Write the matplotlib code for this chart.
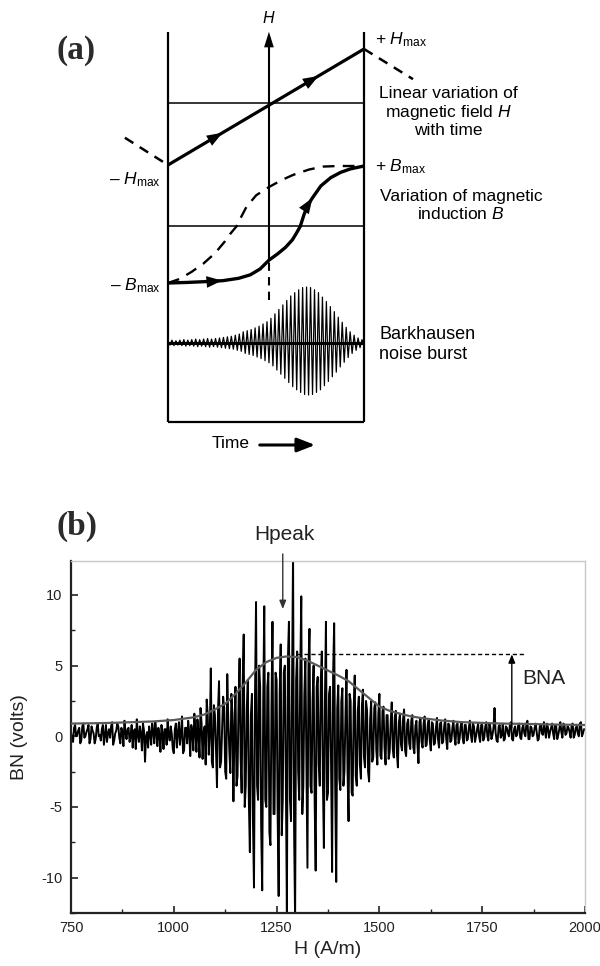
import matplotlib
matplotlib.use('Agg')
import matplotlib.pyplot as plt
import numpy as np
from matplotlib.ticker import MultipleLocator
from matplotlib.patches import FancyArrowPatch

plt.rcParams['font.family'] = ['Liberation Sans', 'DejaVu Sans']
plt.rcParams['axes.unicode_minus'] = False
plt.rcParams['mathtext.fontset'] = 'custom'
plt.rcParams['mathtext.rm'] = 'Liberation Sans'
plt.rcParams['mathtext.it'] = 'Liberation Sans:italic'
plt.rcParams['mathtext.bf'] = 'Liberation Sans:bold'

# ---------------- panel (a): schematic data (normalised units) ----------------
h_time = [0.0, 1.0]
h_field = [-1.0, 1.0]
h_prev_time = [-0.22, 0.0]
h_prev_field = [-0.53, -1.0]
h_next_time = [1.0, 1.25]
h_next_field = [1.0, 0.48]

b_up_time = [0.0, 0.10, 0.20, 0.28, 0.36, 0.42, 0.47, 0.515, 0.56, 0.60, 0.635,
             0.655, 0.675, 0.695, 0.715, 0.74, 0.78, 0.83, 0.88, 0.93, 1.0]
b_up_val = [-1.0, -0.99, -0.975, -0.96, -0.92, -0.86, -0.76, -0.61, -0.50, -0.39, -0.26,
            -0.15, -0.03, 0.18, 0.34, 0.47, 0.66, 0.80, 0.89, 0.95, 1.0]

b_dn_time = [0.0, 0.06, 0.12, 0.18, 0.24, 0.29, 0.32, 0.35, 0.375, 0.40, 0.45,
             0.515, 0.58, 0.64, 0.72, 0.79, 0.87, 1.0]
b_dn_val = [-1.0, -0.93, -0.81, -0.67, -0.49, -0.29, -0.15, -0.03, 0.14, 0.30, 0.50,
            0.64, 0.76, 0.85, 0.94, 0.99, 1.0, 1.0]

burst_amp = [0.04, 0.05, 0.04, 0.05, 0.06, 0.05, 0.06, 0.07, 0.06, 0.07,
             0.08, 0.07, 0.08, 0.09, 0.10, 0.11, 0.12, 0.14, 0.16, 0.20,
             0.22, 0.24, 0.27, 0.30, 0.34, 0.38, 0.44, 0.52, 0.60, 0.68,
             0.76, 0.84, 0.90, 0.95, 0.99, 1.00, 0.99, 0.95, 0.90, 0.82,
             0.74, 0.65, 0.56, 0.46, 0.37, 0.28, 0.20, 0.14, 0.09, 0.06]

# ---------------- panel (b): Barkhausen noise data ----------------
# samples at 750, 755, ..., 2000 A/m
bn_field = np.arange(750, 2001, 5)
bn_signal = [
    0.3, -0.4, 0.8, 0.1, 0.6, -0.3, 0.9, 0.0, 0.5, -0.5,
    0.7, 0.2, -0.2, 0.9, 0.1, 0.5, -0.6, 0.8, 0.2, -0.1,
    1.0, -0.3, 0.4, 0.7, -0.5, 0.3, 1.1, -0.2, 0.6, 0.0,
    -0.8, 0.5, 1.2, -0.4, 0.2, 0.9, -1.8, 0.3, 0.7, -0.6,
    0.4, 1.0, -0.7, 0.1, 0.8, -0.9, 0.5, 1.2, -0.3, 0.2,
    -1.2, 0.9, 0.3, -0.6, 1.4, -1.0, 0.6, 1.1, -1.4, 0.4,
    1.6, -1.1, 0.2, 2.0, -1.6, 0.7, 2.6, -1.3, 4.8, -2.2,
    1.5, -3.6, 3.9, -1.8, 2.8, -2.5, 4.4, -1.0, 3.0, -4.6,
    3.5, -2.8, 5.5, -4.0, 7.2, -3.5, 4.0, -8.2, 3.0, -10.7,
    9.5, -4.5, 3.5, -10.9, 9.2, -5.0, 4.5, -7.7, 8.1, -5.5,
    4.0, -11.3, 6.5, -4.5, 5.0, -12.4, 8.1, -6.0, 13.0, -13.0,
    6.0, -4.5, 9.9, -3.5, 5.5, -9.3, 7.6, -4.0, 5.0, -9.5,
    4.2, -3.5, 6.0, -7.9, 8.1, -4.0, 3.5, -9.6, 8.0, -10.3,
    3.6, -3.8, 3.4, -2.5, 4.7, -6.0, 2.5, -4.2, 4.3, -3.5,
    2.8, -3.0, 3.3, -2.2, 1.8, -3.2, 2.5, -1.5, 2.4, -2.0,
    3.0, -1.6, 2.1, -2.0, 1.5, -1.1, 2.4, -1.5, 1.8, -2.2,
    1.6, -1.0, 1.9, -1.4, 1.2, -0.9, 1.5, -1.2, 1.1, -1.9,
    1.3, -0.8, 1.4, -0.6, 1.2, -1.0, 0.9, -0.5, 1.3, -0.8,
    1.0, -0.4, 1.2, -0.9, 0.8, -0.3, 1.1, -0.6, 0.9, -0.2,
    1.0, -0.5, 0.8, -0.2, 1.1, -0.4, 0.7, 0.0, 0.9, -0.4,
    0.8, -0.1, 1.0, -0.3, 0.6, 0.1, 2.0, -0.3, 0.7, -0.1,
    0.9, -0.2, 0.6, 0.0, 1.0, -0.3, 0.7, 0.1, 0.9, -0.2,
    0.8, 0.0, 1.1, -0.2, 0.6, 0.1, 0.9, -0.3, 0.7, 0.2,
    1.0, -0.1, 0.6, 0.3, 0.9, -0.2, 0.7, 0.1, 1.0, -0.1,
    0.8, 0.2, 0.6, -0.1, 0.9, 0.1, 0.7, 0.0, 1.0, 0.2,
    0.5]
# in-between samples at 752.5, 757.5, ..., 1997.5 A/m
bn_field_mid = np.arange(752.5, 2000, 5)
bn_signal_mid = [
    -0.2, 0.6, 0.0, 0.4, -0.5, 0.7, -0.1, 0.3, 0.8, -0.2,
    0.4, -0.5, 0.6, 0.0, -0.3, 0.8, 0.1, -0.4, 0.5, 0.7,
    -0.6, 0.2, 0.9, -0.1, 0.6, -0.7, 0.3, 0.5, -0.4, 0.8,
    0.3, -0.9, 0.1, 0.7, -1.0, 0.4, 0.0, -0.8, 0.2, 0.9,
    -0.5, 0.3, 0.6, -1.1, 0.2, 0.5, -0.6, 0.1, 0.7, -0.9,
    0.5, -0.8, 1.0, 0.2, -1.2, 0.6, -0.5, 0.3, 0.8, -1.0,
    0.4, 1.2, -1.5, 0.9, 0.3, -2.0, 1.5, 0.1, -1.8, 2.2,
    -0.8, 1.8, -2.2, 0.6, 2.0, -3.0, 1.2, -2.6, 1.6, 0.5,
    -3.5, 2.5, -1.5, 3.8, -5.0, 2.0, -4.5, 1.5, -6.0, 3.0,
    -3.5, 5.0, -6.5, 2.5, -4.5, 3.5, -6.8, 2.0, -5.5, 4.5,
    -5.5, 3.0, -7.0, 4.5, -3.0, 5.5, -4.5, 3.5, -6.5, 4.0,
    -2.5, 4.5, -5.5, 3.0, -2.0, 5.0, -3.5, 2.5, -4.5, 3.5,
    -2.0, 4.0, -3.0, 2.5, -4.5, 3.0, -2.0, 4.5, -3.5, 2.0,
    -3.0, 2.5, -3.5, 1.5, -2.5, 3.0, -4.0, 2.0, -2.8, 1.8,
    -2.0, 2.2, -1.5, 2.5, -2.5, 1.2, -1.8, 2.0, -1.0, 1.6,
    -1.4, 1.8, -0.8, 1.5, -1.6, 1.0, -0.9, 1.4, -1.2, 1.0,
    -0.6, 1.2, -1.0, 0.9, -0.5, 1.1, -0.8, 0.7, -0.6, 1.0,
    -0.4, 0.9, -0.7, 0.8, -0.3, 1.0, -0.6, 0.6, -0.2, 0.9,
    -0.5, 0.7, -0.2, 0.9, -0.4, 0.6, 0.0, 0.8, -0.5, 0.7,
    -0.1, 0.8, -0.3, 0.6, 0.1, 0.9, -0.4, 0.5, 0.0, 0.8,
    -0.3, 0.7, 0.0, 0.9, -0.2, 0.6, 0.3, -0.4, 0.8, 0.1,
    -0.3, 0.7, 0.2, 0.9, -0.2, 0.5, 0.0, 0.8, -0.1, 0.6,
    0.2, 0.9, -0.2, 0.7, 0.0, 0.6, 0.3, -0.2, 0.8, 0.1,
    0.4, 0.9, -0.1, 0.6, 0.2, 0.8, -0.2, 0.5, 0.3, 0.9,
    0.1, 0.7, 0.3, 0.8, -0.1, 0.6, 0.2, 0.9, 0.0, 0.5]

fit_field = [750, 800, 850, 900, 950, 1000, 1050, 1075, 1100, 1125, 1150, 1175,
             1200, 1225, 1250, 1275, 1300, 1325, 1350, 1375, 1400, 1425, 1450,
             1475, 1500, 1525, 1550, 1575, 1600, 1650, 1700, 1750, 1800, 1850,
             1900, 1950, 2000]
fit_bn = [0.9, 0.92, 0.95, 1.0, 1.05, 1.15, 1.35, 1.55, 1.9, 2.3, 3.0, 3.8,
          4.7, 5.25, 5.55, 5.65, 5.6, 5.35, 5.0, 4.65, 4.3, 3.9, 3.3,
          2.7, 2.1, 1.8, 1.6, 1.42, 1.3, 1.12, 1.0, 0.95, 0.9, 0.88,
          0.85, 0.82, 0.8]

hpeak_field = 1265
bna_level = 5.8
bna_field = 1822
x_ticks = [750, 1000, 1250, 1500, 1750, 2000]
y_ticks = [-10, -5, 0, 5, 10]

# ---------------- figure ----------------
W, Hh = 600, 966
fig = plt.figure(figsize=(W / 100, Hh / 100), dpi=100)

# layout (pixels -> schematic units; frame bottom = 0, top = 390)
H_MID, H_HALF = 315, 58
B_MID, B_HALF = 197.5, 58.5
N_BASE, N_UP, N_DN = 79, 56, 52
LINE1, LINE2 = 319, 196
AX_T = 0.515

ax_a = fig.add_axes([168 / W, 1 - 422 / Hh, 196 / W, 390 / Hh])
ax_a.set_xlim(0, 1)
ax_a.set_ylim(0, 390)
ax_a.axis('off')

kw = dict(color='black', clip_on=False, solid_capstyle='butt')
# frame
ax_a.plot([0, 0], [0, 390], lw=1.6, **kw)
ax_a.plot([1, 1], [0, 390], lw=1.6, **kw)
ax_a.plot([0, 1], [0, 0], lw=1.6, **kw)
ax_a.plot([0, 1], [LINE1, LINE1], lw=1.1, **kw)
ax_a.plot([0, 1], [LINE2, LINE2], lw=1.1, **kw)

# H axis
ax_a.plot([AX_T, AX_T], [162, 385], lw=1.5, **kw)
ax_a.plot([AX_T, AX_T], [122, 162], lw=1.5, ls=(0, (4, 3)), color='black', clip_on=False)
ax_a.add_patch(FancyArrowPatch((AX_T, 370), (AX_T, 393), arrowstyle='-|>,head_length=0.8,head_width=0.25',
                               mutation_scale=14, color='black', lw=0, clip_on=False))
ax_a.text(AX_T, 404, '$H$', ha='center', va='center', fontsize=11.5)

# H(t) line
hy = H_MID + H_HALF * np.array(h_field)
ax_a.plot(h_time, hy, lw=2.3, **kw)
ax_a.plot(h_prev_time, H_MID + H_HALF * np.array(h_prev_field), lw=1.8,
          ls=(0, (4, 3)), color='black', clip_on=False)
ax_a.plot(h_next_time, H_MID + H_HALF * np.array(h_next_field), lw=1.8,
          ls=(0, (4, 3)), color='black', clip_on=False)

# B(t) curves
by_up = B_MID + B_HALF * np.array(b_up_val)
by_dn = B_MID + B_HALF * np.array(b_dn_val)
ax_a.plot(b_dn_time, by_dn, lw=1.7, ls=(0, (5, 3.5)), color='black', clip_on=False)
ax_a.plot(b_up_time, by_up, lw=2.4, **kw)


def head(ax, xs, ys, t, dt=0.03):
    x0, x1 = t - dt, t
    y0 = np.interp(x0, xs, ys)
    y1 = np.interp(x1, xs, ys)
    ax.add_patch(FancyArrowPatch((x0, y0), (x1, y1),
                                 arrowstyle='-|>,head_length=0.8,head_width=0.3',
                                 mutation_scale=14, color='black', lw=0, clip_on=False))


head(ax_a, h_time, hy, 0.29)
head(ax_a, h_time, hy, 0.78)
head(ax_a, b_up_time, by_up, 0.29)
head(ax_a, b_up_time, by_up, 0.745, dt=0.02)

# Barkhausen burst (zig-zag)
amp = np.array(burst_amp)
n = len(amp)
bt = np.linspace(0, 1, 2 * n)
by = np.empty(2 * n)
by[0::2] = N_BASE + N_UP * amp
by[1::2] = N_BASE - N_DN * amp
ax_a.plot(bt, by, lw=0.9, color='black', clip_on=False)
ax_a.plot([0, 1], [N_BASE, N_BASE], lw=2.2, **kw)

# labels for panel (a)
fs = 12.5
ax_a.text(1.055, 382, '+ $H_{\\mathrm{max}}$', ha='left', va='center', fontsize=fs)
ax_a.text(-0.035, 242, '– $H_{\\mathrm{max}}$', ha='right', va='center', fontsize=fs)
ax_a.text(1.055, 255, '+ $B_{\\mathrm{max}}$', ha='left', va='center', fontsize=fs)
ax_a.text(-0.035, 136, '– $B_{\\mathrm{max}}$', ha='right', va='center', fontsize=fs)
ax_a.text(1.43, 310, 'Linear variation of\nmagnetic field $H$\nwith time', ha='center',
          va='center', multialignment='center', fontsize=fs, linespacing=1.15)
ax_a.text(1.495, 216.5, 'Variation of magnetic\ninduction $B$', ha='center',
          va='center', multialignment='center', fontsize=fs, linespacing=1.15)
ax_a.text(1.077, 77.5, 'Barkhausen\nnoise burst', ha='left', va='center',
          fontsize=13, linespacing=1.2)
ax_a.text(0.321, -21, 'Time', ha='center', va='center', fontsize=12.5)
ax_a.add_patch(FancyArrowPatch((0.454, -23), (0.765, -23),
                               arrowstyle='-|>,head_length=0.9,head_width=0.35',
                               mutation_scale=12, color='black', lw=2.2, clip_on=False))

fig.text(76 / W, 1 - 50 / Hh, '(a)', fontsize=24, fontweight='bold',
         family='Liberation Serif', color='#2b2b2b', ha='center', va='center')
fig.text(77 / W, 1 - 526 / Hh, '(b)', fontsize=24, fontweight='bold',
         family='Liberation Serif', color='#2b2b2b', ha='center', va='center')

# ---------------- panel (b) ----------------
ax_b = fig.add_axes([71 / W, 1 - 913 / Hh, 514 / W, 352 / Hh])
all_field = np.concatenate([bn_field, bn_field_mid])
all_signal = np.concatenate([bn_signal, bn_signal_mid])
order = np.argsort(all_field)
ax_b.plot(all_field[order], all_signal[order], color='black', lw=1.4, zorder=2)
ax_b.plot(fit_field, fit_bn, color='#5a5a5a', lw=1.6, zorder=3)
ax_b.plot([1300, 1855], [bna_level, bna_level], color='black', lw=1.0,
          ls=(0, (3, 2)), zorder=3)
ax_b.annotate('', xy=(bna_field, bna_level), xytext=(bna_field, 0.6),
              arrowprops=dict(arrowstyle='-|>,head_length=0.5,head_width=0.2',
                              color='black', lw=1.0, mutation_scale=10,
                              shrinkA=0, shrinkB=0), zorder=4)
ax_b.text(1900, 4.1, 'BNA', ha='center', va='center', fontsize=15, color='#222222')
ax_b.annotate('', xy=(hpeak_field, 9.0), xytext=(hpeak_field, 12.9),
              arrowprops=dict(arrowstyle='-|>,head_length=0.5,head_width=0.2',
                              color='#333333', lw=1.0, mutation_scale=10,
                              shrinkA=0, shrinkB=0),
              annotation_clip=False, zorder=4)
ax_b.text(1270, 14.25, 'Hpeak', ha='center', va='center', fontsize=15,
          color='#222222', clip_on=False)

ax_b.set_xlim(750, 2000)
ax_b.set_ylim(-12.5, 12.4)
ax_b.set_xticks(x_ticks)
ax_b.set_yticks(y_ticks)
ax_b.xaxis.set_minor_locator(MultipleLocator(125))
ax_b.yaxis.set_minor_locator(MultipleLocator(2.5))
ax_b.tick_params(which='both', direction='in', color='#222222', labelcolor='#222222')
ax_b.tick_params(which='major', length=5, width=1.2, labelsize=10.5, pad=6)
ax_b.tick_params(which='minor', length=3, width=1.0)
ax_b.tick_params(top=False, right=False, which='both')
for s in ('top', 'right'):
    ax_b.spines[s].set_color('#c8c8c8')
    ax_b.spines[s].set_linewidth(1.0)
for s in ('left', 'bottom'):
    ax_b.spines[s].set_color('#222222')
    ax_b.spines[s].set_linewidth(1.6)
ax_b.set_xlabel('H (A/m)', fontsize=14, color='#222222', labelpad=4)
ax_b.set_ylabel('BN (volts)', fontsize=14, color='#222222', labelpad=10)

fig.savefig('out.png', dpi=100)
